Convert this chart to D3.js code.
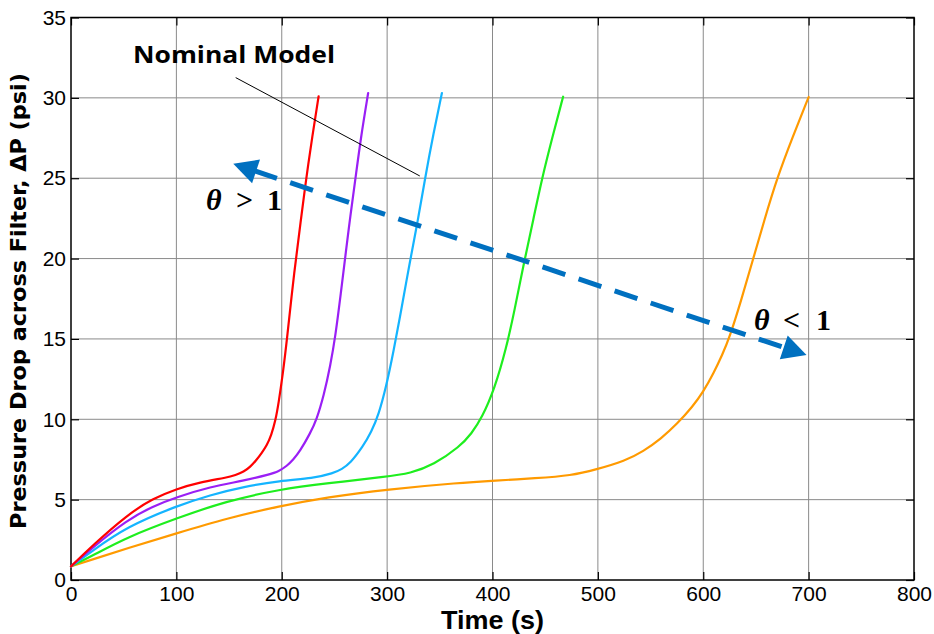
<!DOCTYPE html>
<html><head><meta charset="utf-8">
<script src="https://cdn.jsdelivr.net/npm/d3@7"></script>
<style>body{margin:0;background:#fff}svg{display:block}</style>
</head><body>
<svg id="chart" width="934" height="634"></svg>
<script>
// ---- data ----
const xTicks = [0,100,200,300,400,500,600,700,800];
const yTicks = [0,5,10,15,20,25,30,35];

const redT = [0,21,53,78,100,122,148,156,164,170,176,181,186,190,194,197,201,205,212,218,223,229,235];
const redP = [0.85,2.18,4.04,5.08,5.66,6.08,6.37,6.52,6.74,7.03,7.47,7.9,8.4,9.0,9.9,11.0,12.8,15,19.3,22.3,24.9,27.6,30.1];

const purpleT = [0,20,53,78,100,132,164,189,197,205,211,217,227,233,240,246,251,256,261,265,270,275,282];
const purpleP = [0.85,2.0,3.73,4.6,5.15,5.8,6.18,6.58,6.76,7.1,7.5,7.98,9.13,9.96,11.5,13.3,15.2,17.8,20.5,22.6,25,27.5,30.3];

const cyanT = [0,20,53,100,132,164,198,230,249,257,265,277,285,292,299,306,314,321,329,336,344,352];
const cyanP = [0.85,1.8,3.32,4.6,5.29,5.8,6.18,6.33,6.64,6.9,7.26,8.3,9.2,10.3,12.0,14.2,17.0,19.6,22.3,25,27.8,30.3];

const greenT = [0,20,53,100,148,198,243,300,322,344,369,380,390,402,413,421,430,439,447,457,467];
const greenP = [0.85,1.5,2.66,3.84,4.92,5.64,6.02,6.43,6.64,7.16,8.3,9.1,10.1,11.9,14.4,16.8,19.8,22.5,25,27.6,30.07];

const orangeT = [0,20,53,100,148,198,243,300,369,402,441,475,498,526,543,560,575,590,600,610,618,625,636,647,658,670,685,700];
const orangeP = [0.85,1.27,1.97,2.9,3.84,4.6,5.15,5.64,6.05,6.18,6.33,6.5,6.87,7.42,8.0,8.8,9.7,10.8,11.7,12.9,14.0,15.1,17.4,19.9,22.4,25,27.6,30.05];

// annotation anchor points (data coordinates)
const arrowTips = [[154,25.9],[698,14.0]];
const leaderPts = [[156.3,31.26],[331,25.14]];

const seriesList = [
  {t: orangeT, p: orangeP, color: "#ff9a00"},
  {t: greenT,  p: greenP,  color: "#1eee1e"},
  {t: cyanT,   p: cyanP,   color: "#14b4ff"},
  {t: purpleT, p: purpleP, color: "#9a1ff5"},
  {t: redT,    p: redP,    color: "#ff0000"}
];

// ---- chart ----
const svg = d3.select("#chart");
const x = d3.scaleLinear().domain([0,800]).range([71,914]);
const y = d3.scaleLinear().domain([0,35]).range([580,17.5]);
const tickFont = "'Liberation Sans', Arial, sans-serif";

// grid
const grid = svg.append("g").attr("stroke","#8a8a8a").attr("stroke-width",1);
grid.selectAll(".gx").data(xTicks.slice(1,-1)).join("line")
  .attr("x1",d=>x(d)).attr("x2",d=>x(d)).attr("y1",y(35)).attr("y2",y(0));
grid.selectAll(".gy").data(yTicks.slice(1,-1)).join("line")
  .attr("y1",d=>y(d)).attr("y2",d=>y(d)).attr("x1",x(0)).attr("x2",x(800));

// axes
function styleAxis(g){
  g.select(".domain").remove();
  g.attr("font-size",21).attr("font-family",tickFont);
  g.selectAll("line").attr("stroke","#000").attr("stroke-width",1.2);
  g.selectAll("text").attr("fill","#000");
}
svg.append("g").attr("transform",`translate(0,${y(0)})`)
  .call(d3.axisBottom(x).tickValues(xTicks).tickSizeInner(-8).tickSizeOuter(0).tickPadding(6)).call(styleAxis);
svg.append("g").attr("transform",`translate(0,${y(35)})`)
  .call(d3.axisTop(x).tickValues(xTicks).tickSizeInner(-8).tickSizeOuter(0).tickFormat("")).call(styleAxis);
svg.append("g").attr("transform",`translate(${x(0)},0)`)
  .call(d3.axisLeft(y).tickValues(yTicks).tickSizeInner(-8).tickSizeOuter(0).tickPadding(5)).call(styleAxis);
svg.append("g").attr("transform",`translate(${x(800)},0)`)
  .call(d3.axisRight(y).tickValues(yTicks).tickSizeInner(-8).tickSizeOuter(0).tickFormat("")).call(styleAxis);

// box
svg.append("rect").attr("x",x(0)).attr("y",y(35)).attr("width",x(800)-x(0)).attr("height",y(0)-y(35))
  .attr("fill","none").attr("stroke","#000").attr("stroke-width",1.5);

// curves
const line = d3.line().x(d=>x(d[0])).y(d=>y(d[1])).curve(d3.curveBasis);
svg.append("g").selectAll("path").data(seriesList).join("path")
  .attr("d",s=>line(s.t.map((t,i)=>[t,s.p[i]])))
  .attr("fill","none").attr("stroke",s=>s.color).attr("stroke-width",2.2)
  .attr("stroke-linejoin","round").attr("stroke-linecap","round");

// leader line for Nominal Model
svg.append("line")
  .attr("x1",x(leaderPts[0][0])).attr("y1",y(leaderPts[0][1]))
  .attr("x2",x(leaderPts[1][0])).attr("y2",y(leaderPts[1][1]))
  .attr("stroke","#000").attr("stroke-width",1);

// double-headed dashed arrow
const ax1 = x(arrowTips[0][0]), ay1 = y(arrowTips[0][1]);
const ax2 = x(arrowTips[1][0]), ay2 = y(arrowTips[1][1]);
const len = Math.hypot(ax2-ax1, ay2-ay1);
const ux = (ax2-ax1)/len, uy = (ay2-ay1)/len;
const headL = 24, headW = 12.5;
const blue = "#0070c0";
svg.append("line")
  .attr("x1",ax1+ux*(headL-2)).attr("y1",ay1+uy*(headL-2))
  .attr("x2",ax2-ux*(headL-2)).attr("y2",ay2-uy*(headL-2))
  .attr("stroke",blue).attr("stroke-width",5).attr("stroke-dasharray","24,14");
function head(tx,ty,dx,dy){
  const bx = tx - dx*headL, by = ty - dy*headL;
  const px = -dy, py = dx;
  return `M${tx},${ty}L${bx+px*headW},${by+py*headW}L${bx-px*headW},${by-py*headW}Z`;
}
svg.append("path").attr("d",head(ax1,ay1,-ux,-uy)).attr("fill",blue);
svg.append("path").attr("d",head(ax2,ay2,ux,uy)).attr("fill",blue);

// annotation texts
svg.append("text").attr("x",133).attr("y",63)
  .attr("font-family","'Open Sans', 'Noto Sans', sans-serif").attr("font-weight","bold")
  .attr("font-size",23).attr("textLength",202).attr("lengthAdjust","spacingAndGlyphs")
  .text("Nominal Model");

const serif = "'Liberation Serif', 'Times New Roman', serif";
function theta(xs, baseline, rel){
  svg.append("text").attr("x",xs[0]).attr("y",baseline).attr("font-family",serif)
    .attr("font-weight","bold").attr("font-style","italic").attr("font-size",30).text("θ");
  svg.append("text").attr("x",xs[1]).attr("y",baseline).attr("font-family",serif)
    .attr("font-weight","bold").attr("font-size",30).text(rel);
  svg.append("text").attr("x",xs[2]).attr("y",baseline).attr("font-family",serif)
    .attr("font-weight","bold").attr("font-size",30).text("1");
}
theta([206,236,267],210,">");
theta([754,783,816],330,"<");

// axis titles
svg.append("text").attr("x",492.5).attr("y",629).attr("text-anchor","middle")
  .attr("font-family",tickFont).attr("font-weight","bold").attr("font-size",25)
  .attr("textLength",103).attr("lengthAdjust","spacingAndGlyphs")
  .text("Time (s)");
svg.append("text").attr("transform","translate(26,301) rotate(-90)").attr("text-anchor","middle")
  .attr("font-family","'DejaVu Sans', sans-serif").attr("font-weight","bold").attr("font-size",22)
  .attr("textLength",456).attr("lengthAdjust","spacingAndGlyphs")
  .text("Pressure Drop across Filter, ΔP (psi)");
</script>
</body></html>
